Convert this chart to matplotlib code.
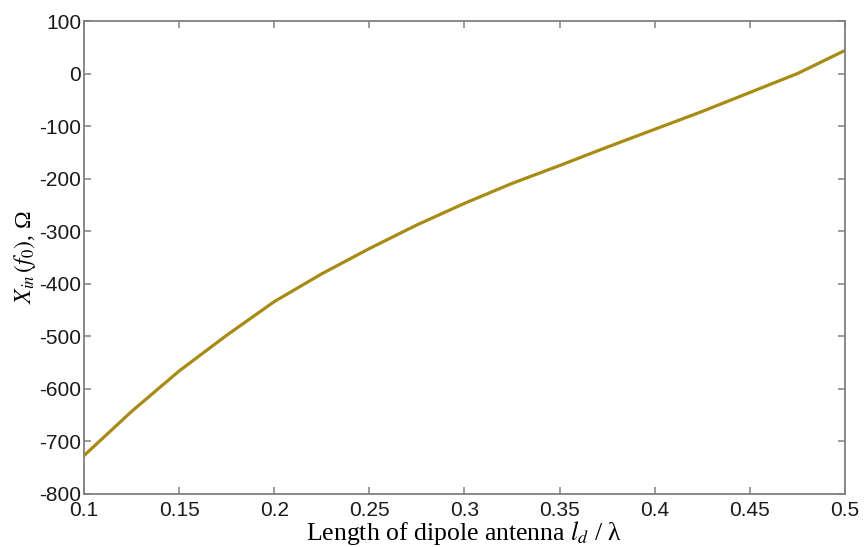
import matplotlib
matplotlib.use('Agg')
import matplotlib.pyplot as plt

# reactance of the dipole at f0 vs. its electrical length
length = [0.1, 0.125, 0.15, 0.175, 0.2, 0.225, 0.25, 0.275, 0.3,
          0.325, 0.35, 0.375, 0.4, 0.425, 0.45, 0.475, 0.5]
x_in = [-727, -643, -566, -498, -434, -381, -333, -288, -247,
        -209, -175, -140, -106, -72, -36, 0, 44]

x_ticks = [0.1, 0.15, 0.2, 0.25, 0.3, 0.35, 0.4, 0.45, 0.5]
x_tick_labels = ['0.1', '0.15', '0.2', '0.25', '0.3', '0.35', '0.4', '0.45', '0.5']
y_ticks = [-800, -700, -600, -500, -400, -300, -200, -100, 0, 100]

plt.rcParams['mathtext.fontset'] = 'stix'
plt.rcParams['axes.unicode_minus'] = False

fig = plt.figure(figsize=(8.64, 5.47), dpi=100)
ax = fig.add_axes([0.0972, 0.0969, 0.8808, 0.8647])

ax.plot(length, x_in, color='#a88b14', linewidth=2.3)

ax.set_xlim(0.1, 0.5)
ax.set_ylim(-800, 100)
ax.set_xticks(x_ticks)
ax.set_xticklabels(x_tick_labels)
ax.set_yticks(y_ticks)

for s in ax.spines.values():
    s.set_color('#808080')
    s.set_linewidth(1.3)
ax.tick_params(direction='in', length=5, width=1.1, color='#808080',
               top=True, right=True, labelsize=15, labelcolor='#1a1a1a')
ax.tick_params(axis='x', pad=5)
ax.tick_params(axis='y', pad=2)
for lab in ax.get_xticklabels() + ax.get_yticklabels():
    lab.set_fontfamily('Liberation Sans')

ax.set_xlabel(r'Length of dipole antenna $l_d$ / λ', family='Liberation Serif',
              fontsize=18.5, labelpad=-1)
ax.set_ylabel(r'$X_{in}\,(f_0)$, Ω', family='Liberation Serif',
              fontsize=17, labelpad=1)

fig.savefig('out.png', dpi=100)
